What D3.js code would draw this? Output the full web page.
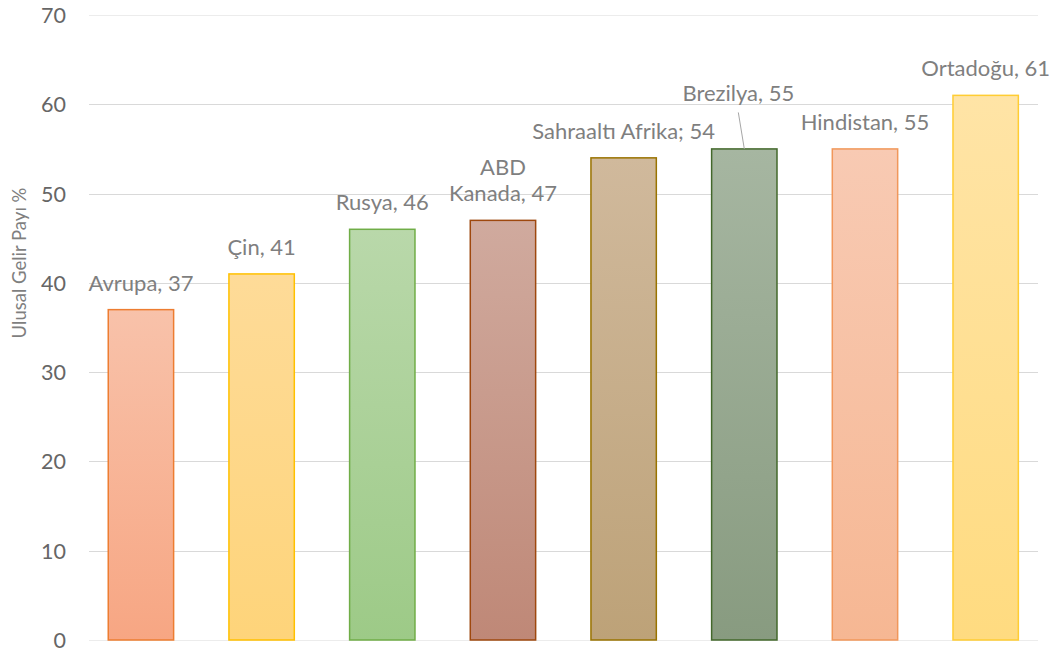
<!DOCTYPE html>
<html><head><meta charset="utf-8">
<script src="https://cdn.jsdelivr.net/npm/d3@7"></script>
<style>body{margin:0;background:#fff}svg{display:block}</style>
</head><body>
<script>
const categories = ["Avrupa","Çin","Rusya","ABD Kanada","Sahraaltı Afrika","Brezilya","Hindistan","Ortadoğu"];
const values = [37,41,46,47,54,55,55,61];
const labelTexts = [["Avrupa, 37"],["Çin, 41"],["Rusya, 46"],["ABD","Kanada, 47"],["Sahraaltı Afrika; 54"],["Brezilya, 55"],["Hindistan, 55"],["Ortadoğu, 61"]];
const yTicks = [0,10,20,30,40,50,60,70];
const yTitle = "Ulusal Gelir Payı %";

// styles
const fillTop = ["#f8c2aa","#fedb98","#b9d8aa","#d0aa9e","#d0b99c","#a6b6a1","#f8cab3","#ffe4a6"];
const fillBot = ["#f7a683","#fed47a","#9dca87","#bf8877","#bda278","#889b80","#f6b793","#ffdb80"];
const strokes = ["#ed7d31","#ffc000","#70ad47","#9e480e","#997300","#43682b","#f1975a","#ffcd33"];
const labelDx = [0,0,0,0,0,-6,0,0];
const labelDy = [0,0,0,0,0,-28.5,0,0];
const FONT = "Lato";

const W=1061,H=655;
const svg=d3.select("body").append("svg").attr("width",W).attr("height",H);
const y=d3.scaleLinear().domain([0,70]).range([640,15]);
const x=d3.scaleBand().domain(categories).range([80.6,1046]).paddingInner(0.45).paddingOuter(0.225);

const defs=svg.append("defs");
categories.forEach((c,i)=>{
  const g=defs.append("linearGradient").attr("id","g"+i).attr("x1",0).attr("y1",0).attr("x2",0).attr("y2",1);
  g.append("stop").attr("offset","0%").attr("stop-color",fillTop[i]);
  g.append("stop").attr("offset","100%").attr("stop-color",fillBot[i]);
});

// gridlines
svg.append("g").selectAll("line").data(yTicks).join("line")
  .attr("x1",89).attr("x2",1038)
  .attr("y1",d=>Math.round(y(d))+0.5).attr("y2",d=>Math.round(y(d))+0.5)
  .attr("stroke",d=>(d===0||d===70)?"#ececec":"#d9d9d9").attr("stroke-width",1);

// y axis labels
const yAxis=d3.axisLeft(y).tickValues(yTicks).tickSize(0).tickPadding(0);
const ga=svg.append("g").attr("transform","translate(66,0)").call(yAxis);
ga.select(".domain").remove();
ga.selectAll("text").attr("font-family",FONT).attr("font-size",21.5).attr("fill","#666").attr("dy","0.35em");

// title
svg.append("text").attr("transform","translate(26,263) rotate(-90)")
  .attr("text-anchor","middle").attr("font-family",FONT).attr("font-size",18.5)
  .attr("fill","#7f7f7f").text(yTitle);

// bars
svg.append("g").selectAll("rect").data(values).join("rect")
  .attr("x",(d,i)=>x(categories[i])+0.5)
  .attr("y",d=>y(d))
  .attr("width",x.bandwidth()-1)
  .attr("height",d=>y(0)-y(d))
  .attr("fill",(d,i)=>`url(#g${i})`)
  .attr("stroke",(d,i)=>strokes[i]).attr("stroke-width",1.5);

// labels
const lg=svg.append("g");
values.forEach((v,i)=>{
  const cx=x(categories[i])+x.bandwidth()/2+labelDx[i];
  const base=y(v)-19+labelDy[i];
  const lines=labelTexts[i];
  lines.forEach((t,k)=>{
    lg.append("text").attr("x",cx).attr("y",base-(lines.length-1-k)*26)
      .attr("text-anchor","middle").attr("font-family",FONT).attr("font-size",22)
      .attr("fill","#7f7f7f").text(t);
  });
  if(labelDy[i]!==0){
    lg.append("line").attr("x1",cx).attr("y1",base+11)
      .attr("x2",x(categories[i])+x.bandwidth()/2).attr("y2",y(v))
      .attr("stroke","#a6a6a6").attr("stroke-width",1);
  }
});
</script>
</body></html>
